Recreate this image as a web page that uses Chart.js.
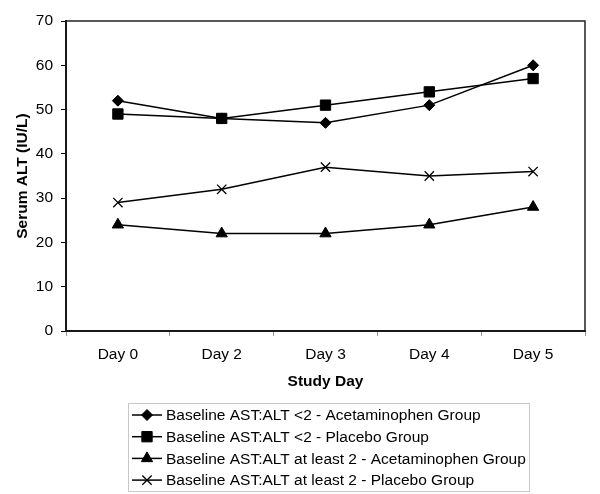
<!DOCTYPE html>
<html lang="en">
<head>
  <meta charset="UTF-8" />
  <title>Serum ALT by Study Day</title>
  <script src="https://cdn.jsdelivr.net/npm/chart.js"></script>
  <style>
    html, body { margin: 0; padding: 0; background: #fff; }
    #wrap { width: 600px; height: 494px; }
  </style>
</head>
<body>
  <div id="wrap"><canvas id="altChart"></canvas></div>

  <script>
    const days = ['Day 0', 'Day 2', 'Day 3', 'Day 4', 'Day 5'];
    const acetLow = [52, 48, 47, 51, 60];
    const placeboLow = [49, 48, 51, 54, 57];
    const acetHigh = [24, 22, 22, 24, 28];
    const placeboHigh = [29, 32, 37, 35, 36];
    const seriesNames = [
      'Baseline AST:ALT <2 - Acetaminophen Group',
      'Baseline AST:ALT <2 - Placebo Group',
      'Baseline AST:ALT at least 2 - Acetaminophen Group',
      'Baseline AST:ALT at least 2 - Placebo Group'
    ];

    const FONT = '"Liberation Sans", Arial, sans-serif';
    const FS = 15.5;

    function series(label, data, style, radius, bw) {
      return {
        label: label,
        data: data,
        borderColor: '#000',
        backgroundColor: '#000',
        borderWidth: 1.5,
        pointStyle: style,
        pointRadius: radius,
        pointHoverRadius: radius,
        pointBorderWidth: bw,
        pointBackgroundColor: '#000',
        pointBorderColor: '#000',
        tension: 0
      };
    }

    // box round the plot area
    const frame = {
      id: 'frame',
      beforeDatasetsDraw(chart) {
        const a = chart.chartArea, ctx = chart.ctx;
        ctx.save();
        ctx.strokeStyle = '#222';
        ctx.lineWidth = 1.5;
        ctx.strokeRect(a.left, a.top, a.right - a.left, a.bottom - a.top);
        ctx.restore();
      }
    };

    // boxed legend with line + marker samples
    const boxLegend = {
      id: 'boxLegend',
      afterDraw(chart) {
        const ctx = chart.ctx;
        const x0 = 128, y0 = 403, w = 401, h = 88, row = 21.7;
        ctx.save();
        ctx.strokeStyle = '#c8c8c8';
        ctx.lineWidth = 1;
        ctx.strokeRect(x0 + 0.5, y0 + 0.5, w, h);
        ctx.font = FS + 'px ' + FONT;
        ctx.textBaseline = 'middle';
        ctx.fillStyle = '#000';
        chart.data.datasets.forEach((ds, i) => {
          const y = y0 + 12 + i * row;
          ctx.strokeStyle = '#000';
          ctx.lineWidth = 1.5;
          ctx.beginPath();
          ctx.moveTo(x0 + 4, y);
          ctx.lineTo(x0 + 34, y);
          ctx.stroke();
          ctx.lineWidth = ds.pointBorderWidth;
          Chart.helpers.drawPoint(ctx, {
            pointStyle: ds.pointStyle,
            radius: ds.pointRadius,
            borderWidth: ds.pointBorderWidth,
            rotation: 0
          }, x0 + 19, y);
          ctx.fillText(ds.label, x0 + 38, y + 1);
        });
        ctx.restore();
      }
    };

    new Chart(document.getElementById('altChart'), {
      type: 'line',
      data: {
        labels: days,
        datasets: [
          series(seriesNames[0], acetLow, 'rectRot', 5.5, 1),
          series(seriesNames[1], placeboLow, 'rect', 7.3, 1),
          series(seriesNames[2], acetHigh, 'triangle', 6.5, 1),
          series(seriesNames[3], placeboHigh, 'crossRot', 6.6, 1.3)
        ]
      },
      options: {
        responsive: true,
        maintainAspectRatio: false,
        animation: false,
        layout: { padding: { left: 0, top: 21, right: 15, bottom: 100 } },
        plugins: {
          legend: { display: false },
          tooltip: { enabled: false }
        },
        scales: {
          x: {
            offset: true,
            afterFit(s) { s.height = 63; },
            grid: {
              offset: true,
              drawOnChartArea: false,
              tickLength: 5,
              color: '#999'
            },
            border: { color: '#000', width: 2 },
            ticks: { color: '#000', padding: 9, font: { family: FONT, size: FS } },
            title: {
              display: true,
              text: 'Study Day',
              color: '#000',
              padding: { top: 0, bottom: 3 },
              font: { family: FONT, size: FS, weight: 'bold' }
            }
          },
          y: {
            min: 0,
            max: 70,
            afterFit(s) { s.width = 66; },
            grid: {
              drawOnChartArea: false,
              tickLength: 5,
              color: '#000'
            },
            border: { color: '#000', width: 2 },
            ticks: { stepSize: 10, color: '#000', padding: 8, font: { family: FONT, size: FS } },
            title: {
              display: true,
              text: 'Serum ALT (IU/L)',
              color: '#000',
              padding: { top: 13, bottom: 0 },
              font: { family: FONT, size: FS, weight: 'bold' }
            }
          }
        }
      },
      plugins: [frame, boxLegend]
    });
  </script>
</body>
</html>
